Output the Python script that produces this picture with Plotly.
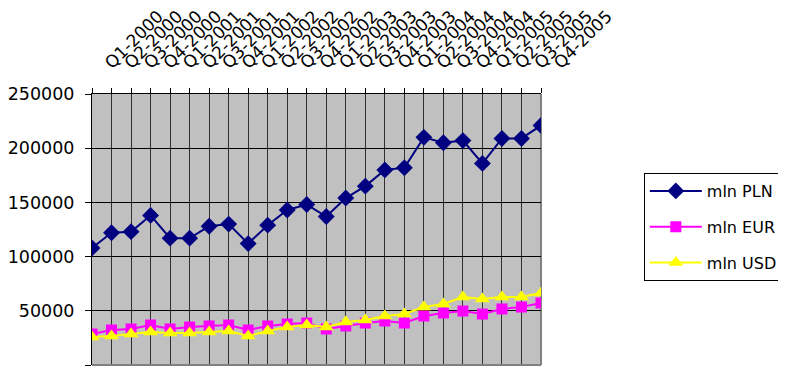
import plotly.graph_objects as go

quarters = [f"Q{q}-{y}" for y in range(2000, 2006) for q in range(1, 5)]
pln = [108000, 122000, 123000, 138000, 117000, 117000, 128000, 130000,
       112000, 129000, 143000, 148000, 137000, 154000, 165000, 180000,
       182000, 210000, 205000, 207000, 186000, 209000, 209000, 221000]
eur = [28600, 32300, 33200, 36900, 33200, 35000, 36000, 36900,
       32300, 36000, 37800, 38700, 33200, 36000, 38700, 40600,
       38700, 45200, 48000, 49800, 47000, 51700, 53500, 57200]
usd = [25800, 26800, 28600, 30400, 29500, 29500, 30400, 31400,
       26800, 31400, 35000, 36900, 35000, 39700, 41500, 45200,
       47000, 53500, 56300, 62700, 60900, 62700, 62700, 66400]
y_ticks = [0, 50000, 100000, 150000, 200000, 250000]
y_labels = ["0", "50000", "100000", "150000", "200000", "250000"]

idx = list(range(len(quarters)))
FONT = "DejaVu Sans"

fig = go.Figure()
fig.add_trace(go.Scatter(x=idx, y=pln, name="mln PLN", mode="lines+markers",
                         line=dict(color="#000080", width=2),
                         marker=dict(symbol="diamond", size=13, color="#000080"),
                         legendgroup="a"))
fig.add_trace(go.Scatter(x=idx, y=eur, name="mln EUR", mode="lines+markers",
                         line=dict(color="#FF00FF", width=2),
                         marker=dict(symbol="square", size=11, color="#FF00FF"),
                         legendgroup="b"))
fig.add_trace(go.Scatter(x=idx, y=usd, name="mln USD", mode="lines+markers",
                         line=dict(color="#FFFF00", width=2),
                         marker=dict(symbol="triangle-up", size=13, color="#FFFF00"),
                         legendgroup="c"))

# page body has an 8px margin, so the figure is offset by 8px
fig.update_layout(
    width=778, height=366,
    margin=dict(l=84, r=245, t=86, b=9, autoexpand=False),
    paper_bgcolor="white",
    plot_bgcolor="#C0C0C0",
    font=dict(family=FONT, color="black"),
    legend=dict(x=1.229, y=0.7085, xanchor="left", yanchor="top",
                bgcolor="white", bordercolor="black", borderwidth=1,
                font=dict(family=FONT, size=16, color="black"),
                tracegroupgap=12, itemwidth=52),
    xaxis=dict(side="top", range=[0, 23], tickmode="array", tickvals=idx,
               ticktext=quarters, tickangle=-45, automargin=False,
               tickfont=dict(family=FONT, size=17, color="black"),
               showgrid=True, gridcolor="#303030", gridwidth=1,
               showline=True, linecolor="black", linewidth=1,
               ticks="outside", ticklen=5, tickcolor="black",
               zeroline=False, ticklabelstandoff=9, ticklabelshift=14),
    yaxis=dict(range=[0, 250000], tickmode="array", tickvals=y_ticks,
               ticktext=y_labels, automargin=False,
               tickfont=dict(family=FONT, size=17.5, color="black"),
               showgrid=True, gridcolor="black", gridwidth=1,
               showline=True, linecolor="black", linewidth=1,
               ticks="outside", ticklen=6, tickcolor="black",
               zeroline=False, ticklabelstandoff=7),
    showlegend=True,
)
fig.add_shape(type="line", xref="paper", yref="paper", x0=0, x1=1, y0=0, y1=0,
              line=dict(color="#808080", width=2), layer="above")
fig.add_shape(type="line", xref="paper", yref="paper", x0=1, x1=1, y0=0, y1=1,
              line=dict(color="#808080", width=2), layer="below")

fig.write_html("out.html")
